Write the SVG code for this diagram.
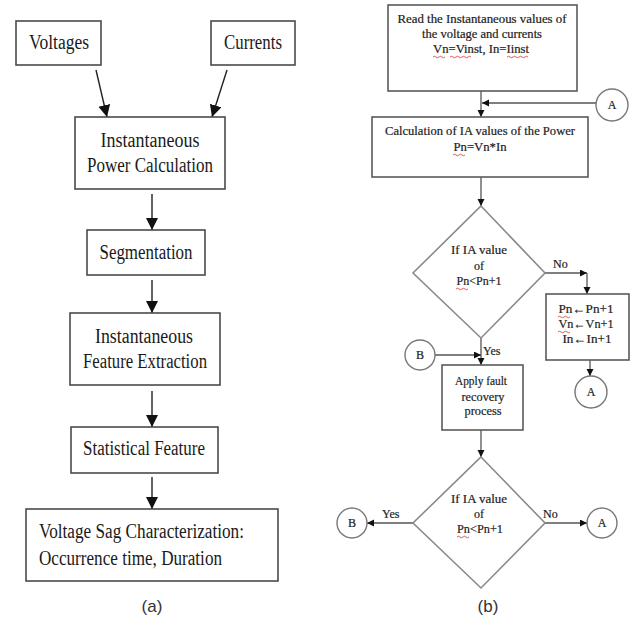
<svg xmlns="http://www.w3.org/2000/svg" width="634" height="620" viewBox="0 0 634 620">
<style>
.bg{fill:#fff}
.boxL{fill:#fff;stroke:#4a4a4a;stroke-width:1.6}
.boxR{fill:#fff;stroke:#5a5a5a;stroke-width:1.6}
.dia{fill:#fff;stroke:#8a8a8a;stroke-width:1.6}
.circ{fill:#fff;stroke:#777;stroke-width:1.4}
text{font-family:'Liberation Serif',serif}
.tL{font-size:20.5px;fill:#1a1a1a}
.tR{font-size:12px;fill:#222;stroke:#222;stroke-width:0.2}
.cap{font-family:'Liberation Sans',sans-serif;font-size:17px;fill:#333}
.lnL{stroke:#222;stroke-width:1.4;fill:none}
.lnR{stroke:#555;stroke-width:1.3;fill:none}
.sq{stroke:#e03030;stroke-width:0.8;fill:none}
</style>
<defs>
<marker id="ahL" markerUnits="userSpaceOnUse" markerWidth="12" markerHeight="14" refX="12" refY="6" orient="auto">
<path d="M0,0 L12,6 L0,12 Z" fill="#111"/>
</marker>
<marker id="ahR" markerUnits="userSpaceOnUse" markerWidth="8" markerHeight="8" refX="7" refY="3.5" orient="auto">
<path d="M0,0 L7,3.5 L0,7 Z" fill="#111"/>
</marker>
</defs>
<rect class="bg" x="0" y="0" width="634" height="620"/>

<g id="connectors">
<line class="lnL" x1="96" y1="70" x2="107" y2="117" marker-end="url(#ahL)"/>
<line class="lnL" x1="227" y1="70" x2="212" y2="117" marker-end="url(#ahL)"/>
<line class="lnL" x1="152" y1="194" x2="152" y2="230" marker-end="url(#ahL)"/>
<line class="lnL" x1="152" y1="280" x2="152" y2="313" marker-end="url(#ahL)"/>
<line class="lnL" x1="152" y1="391" x2="152" y2="427" marker-end="url(#ahL)"/>
<line class="lnL" x1="152" y1="477" x2="152" y2="509" marker-end="url(#ahL)"/>

<line class="lnR" x1="481" y1="91" x2="481" y2="117" marker-end="url(#ahR)"/>
<line class="lnR" x1="596" y1="103" x2="482" y2="103" marker-end="url(#ahR)"/>
<line class="lnR" x1="481" y1="177" x2="481" y2="206" marker-end="url(#ahR)"/>
<path class="lnR" d="M545,273 L587,273" marker-end="url(#ahR)"/>
<line class="lnR" x1="587" y1="273" x2="587" y2="294" marker-end="url(#ahR)"/>
<line class="lnR" x1="590" y1="360" x2="590" y2="376" marker-end="url(#ahR)"/>
<line class="lnR" x1="481" y1="338" x2="481" y2="365" marker-end="url(#ahR)"/>
<line class="lnR" x1="435" y1="355" x2="481" y2="355" marker-end="url(#ahR)"/>
<line class="lnR" x1="481" y1="430" x2="481" y2="457" marker-end="url(#ahR)"/>
<line class="lnR" x1="413" y1="523" x2="367" y2="523" marker-end="url(#ahR)"/>
<line class="lnR" x1="545" y1="523" x2="587" y2="523" marker-end="url(#ahR)"/>
</g>

<g id="voltages">
<rect class="boxL" x="16" y="21" width="85" height="44"/>
<text class="tL" x="59" y="49" text-anchor="middle" textLength="60" lengthAdjust="spacingAndGlyphs">Voltages</text>
</g>
<g id="currents">
<rect class="boxL" x="211" y="21" width="84" height="44"/>
<text class="tL" x="253" y="49" text-anchor="middle" textLength="58" lengthAdjust="spacingAndGlyphs">Currents</text>
</g>
<g id="power-calc">
<rect class="boxL" x="75" y="117" width="150" height="72"/>
<text class="tL" x="150" y="147" text-anchor="middle" textLength="99" lengthAdjust="spacingAndGlyphs">Instantaneous</text>
<text class="tL" x="150" y="172" text-anchor="middle" textLength="126" lengthAdjust="spacingAndGlyphs">Power Calculation</text>
</g>
<g id="segmentation">
<rect class="boxL" x="87" y="230" width="118" height="45"/>
<text class="tL" x="146" y="259" text-anchor="middle" textLength="93" lengthAdjust="spacingAndGlyphs">Segmentation</text>
</g>
<g id="feature-extraction">
<rect class="boxL" x="70" y="313" width="150" height="72"/>
<text class="tL" x="144" y="343" text-anchor="middle" textLength="98" lengthAdjust="spacingAndGlyphs">Instantaneous</text>
<text class="tL" x="145" y="368" text-anchor="middle" textLength="124" lengthAdjust="spacingAndGlyphs">Feature Extraction</text>
</g>
<g id="statistical">
<rect class="boxL" x="71" y="427" width="147" height="46"/>
<text class="tL" x="144" y="455" text-anchor="middle" textLength="122" lengthAdjust="spacingAndGlyphs">Statistical Feature</text>
</g>
<g id="sag">
<rect class="boxL" x="26" y="509" width="252" height="72"/>
<text class="tL" x="39" y="538" textLength="205" lengthAdjust="spacingAndGlyphs">Voltage Sag Characterization:</text>
<text class="tL" x="39" y="565" textLength="183" lengthAdjust="spacingAndGlyphs">Occurrence time, Duration</text>
</g>
<text class="cap" x="152" y="612" text-anchor="middle">(a)</text>

<g id="read">
<rect class="boxR" x="388" y="5" width="189" height="86"/>
<text class="tR" x="482" y="23" text-anchor="middle" textLength="169" lengthAdjust="spacingAndGlyphs">Read the Instantaneous values of</text>
<text class="tR" x="482" y="38" text-anchor="middle" textLength="120" lengthAdjust="spacingAndGlyphs">the voltage and currents</text>
<text class="tR" x="481" y="53" text-anchor="middle" textLength="96" lengthAdjust="spacingAndGlyphs">Vn=Vinst, In=Iinst</text>
<path class="sq" d="M433,57 q1.5,-1.5 3,0 t3,0 t3,0 t3,0"/>
<path class="sq" d="M450,57 q1.5,-1.5 3,0 t3,0 t3,0 t3,0 t3,0 t3,0 t3,0"/>
<path class="sq" d="M507,57 q1.5,-1.5 3,0 t3,0 t3,0 t3,0 t3,0 t3,0 t3,0"/>
</g>
<g id="conn-A-top">
<circle class="circ" cx="612" cy="105" r="16"/>
<text class="tR" x="612" y="109" text-anchor="middle">A</text>
</g>
<g id="calc">
<rect class="boxR" x="372" y="117" width="216" height="60"/>
<text class="tR" x="480" y="135" text-anchor="middle" textLength="190" lengthAdjust="spacingAndGlyphs">Calculation of IA values of the Power</text>
<text class="tR" x="480" y="151" text-anchor="middle" textLength="53" lengthAdjust="spacingAndGlyphs">Pn=Vn*In</text>
<path class="sq" d="M453,155 q1.5,-1.5 3,0 t3,0 t3,0 t3,0"/>
</g>
<g id="decision1">
<path class="dia" d="M481,206 L545,273 L481,338 L413,273 Z"/>
<text class="tR" x="479" y="254" text-anchor="middle" textLength="56" lengthAdjust="spacingAndGlyphs">If IA value</text>
<text class="tR" x="479" y="270" text-anchor="middle">of</text>
<text class="tR" x="479" y="285" text-anchor="middle" textLength="45" lengthAdjust="spacingAndGlyphs">Pn&lt;Pn+1</text>
<path class="sq" d="M456,289 q1.5,-1.5 3,0 t3,0 t3,0 t3,0"/>
<text class="tR" x="553" y="268">No</text>
<text class="tR" x="483" y="355">Yes</text>
</g>
<g id="update">
<rect class="boxR" x="546" y="294" width="83" height="66"/>
<text class="tR" x="586" y="313" text-anchor="middle" textLength="55" lengthAdjust="spacingAndGlyphs">Pn←Pn+1</text>
<text class="tR" x="586" y="328" text-anchor="middle" textLength="55" lengthAdjust="spacingAndGlyphs">Vn←Vn+1</text>
<text class="tR" x="587" y="343" text-anchor="middle" textLength="49" lengthAdjust="spacingAndGlyphs">In←In+1</text>
<path class="sq" d="M558,317 q1.5,-1.5 3,0 t3,0 t3,0 t3,0"/>
<path class="sq" d="M558,332 q1.5,-1.5 3,0 t3,0 t3,0 t3,0"/>
</g>
<g id="conn-A-mid">
<circle class="circ" cx="591" cy="392" r="16"/>
<text class="tR" x="591" y="396" text-anchor="middle">A</text>
</g>
<g id="conn-B-mid">
<circle class="circ" cx="420" cy="355" r="15"/>
<text class="tR" x="420" y="359" text-anchor="middle">B</text>
</g>
<g id="recovery">
<rect class="boxR" x="442" y="365" width="81" height="65"/>
<text class="tR" x="481" y="385" text-anchor="middle" textLength="52" lengthAdjust="spacingAndGlyphs">Apply fault</text>
<text class="tR" x="483" y="401" text-anchor="middle" textLength="43" lengthAdjust="spacingAndGlyphs">recovery</text>
<text class="tR" x="483" y="415" text-anchor="middle" textLength="37" lengthAdjust="spacingAndGlyphs">process</text>
</g>
<g id="decision2">
<path class="dia" d="M481,457 L545,523 L481,588 L413,523 Z"/>
<text class="tR" x="479" y="503" text-anchor="middle" textLength="56" lengthAdjust="spacingAndGlyphs">If IA value</text>
<text class="tR" x="479" y="518" text-anchor="middle">of</text>
<text class="tR" x="480" y="533" text-anchor="middle" textLength="46" lengthAdjust="spacingAndGlyphs">Pn&lt;Pn+1</text>
<path class="sq" d="M457,537 q1.5,-1.5 3,0 t3,0 t3,0 t3,0"/>
<text class="tR" x="382" y="518">Yes</text>
<text class="tR" x="543" y="518">No</text>
</g>
<g id="conn-B-bot">
<circle class="circ" cx="352" cy="523" r="15"/>
<text class="tR" x="352" y="527" text-anchor="middle">B</text>
</g>
<g id="conn-A-bot">
<circle class="circ" cx="602" cy="523" r="15"/>
<text class="tR" x="602" y="527" text-anchor="middle">A</text>
</g>
<text class="cap" x="488" y="612" text-anchor="middle">(b)</text>
</svg>
